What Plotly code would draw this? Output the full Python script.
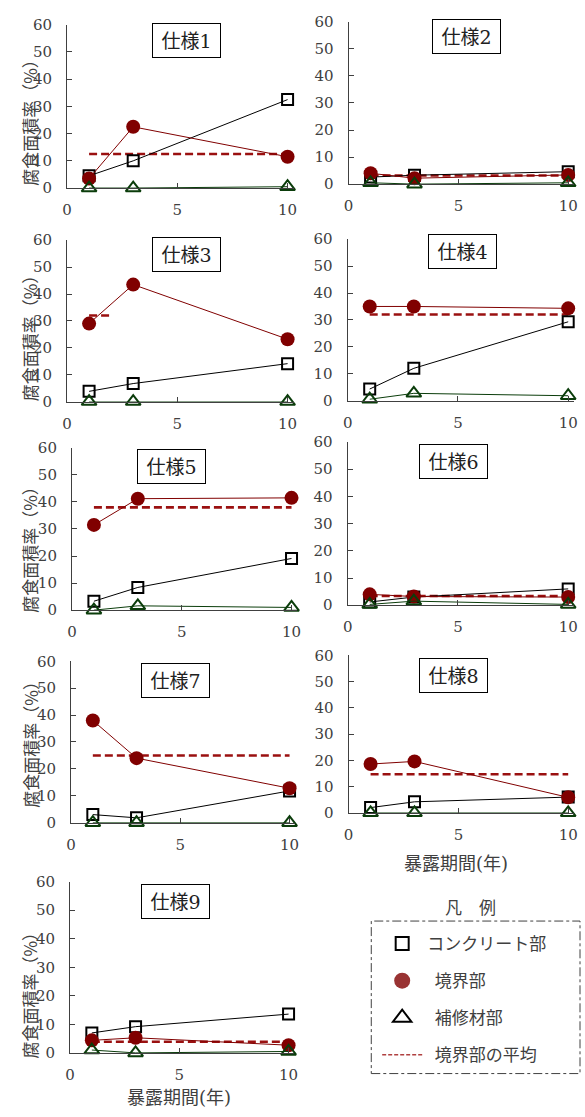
import plotly.graph_objects as go

W, H = 585, 1117

# ---- data -------------------------------------------------------------
years = [1, 3, 10]
spec_names = ["仕様1", "仕様2", "仕様3", "仕様4", "仕様5",
              "仕様6", "仕様7", "仕様8", "仕様9"]

concrete = [
    [4.5, 10.0, 32.5],
    [2.6, 3.3, 4.6],
    [3.8, 6.7, 14.1],
    [4.3, 12.0, 29.3],
    [3.3, 8.4, 19.1],
    [1.2, 3.0, 6.0],
    [3.0, 1.8, 11.8],
    [2.0, 4.2, 6.0],
    [7.0, 9.2, 13.6],
]
boundary = [
    [3.5, 22.5, 11.5],
    [4.0, 2.2, 3.4],
    [29.0, 43.5, 23.2],
    [35.0, 35.0, 34.3],
    [31.5, 41.2, 41.5],
    [4.0, 3.2, 3.0],
    [38.0, 24.0, 12.8],
    [18.6, 19.6, 5.9],
    [4.4, 5.3, 2.7],
]
repair = [
    [0.0, 0.0, 0.5],
    [0.5, 0.0, 0.5],
    [0.0, 0.0, 0.0],
    [0.5, 2.7, 1.8],
    [0.0, 1.6, 1.0],
    [0.3, 1.5, 0.3],
    [0.0, 0.0, 0.0],
    [0.0, 0.0, 0.0],
    [1.0, 0.0, 0.5],
]
boundary_avg = [12.5, 3.2, 32.0, 32.0, 38.0, 3.4, 25.0, 14.7, 3.9]
avg_span = [[1, 10], [1, 10], [1, 2], [1, 10], [1, 10],
            [1, 10], [1, 10], [1, 10], [1, 10]]

x_ticks = [0, 5, 10]
y_ticks = [0, 10, 20, 30, 40, 50, 60]

legend_names = ["コンクリート部", "  境界部", "  補修材部", "  境界部の平均"]
y_title = "腐食面積率（%）"
x_title = "暴露期間(年)"

# ---- layout geometry (pixels: x at 0, x at 10, y at 60, y at 0) --------
frames = [
    (63, 287, 16, 182),
    (349, 572, 13, 178),
    (63, 287, 235, 399),
    (348, 572, 234, 398),
    (68, 291, 446, 611),
    (348, 572, 440, 606),
    (67, 289, 663, 827),
    (349, 572, 657, 817),
    (66, 288, 887, 1061),
]
title_boxes = [(184, 32), (469, 28), (184, 250), (465, 246), (169, 465),
               (455, 460), (173, 683), (456, 677), (173, 907)]
XMAX = 10.27

C_TEXT = "#404040"
C_AXIS = "#404040"
C_CONC = "#000000"
C_BOUND = "#800000"
C_AVG = "#9a1010"
C_REP = "#0b3d0b"
NUM_FONT = "DejaVu Serif, Noto Sans CJK JP"
JP_FONT = "Noto Sans CJK JP"

fig = go.Figure()
annotations = []


def px_x(v):
    return v / W


def px_y(v):
    return 1 - v / H


for i in range(9):
    n = "" if i == 0 else str(i + 1)
    xa, ya = "x" + n, "y" + n
    x0, x10, yt, yb = frames[i]
    xend = min(x0 + (x10 - x0) * XMAX / 10, W)
    xmax = 10 * (xend - x0) / (x10 - x0)
    fig.update_layout({
        "xaxis" + n: dict(
            domain=[px_x(x0), px_x(xend)], anchor=ya, range=[0, xmax],
            tickvals=x_ticks, ticks="inside", ticklen=5, tickcolor=C_AXIS,
            showline=True, linecolor=C_AXIS, linewidth=1, showgrid=False,
            zeroline=False, ticklabelstandoff=8, ticklabeloverflow="allow",
            tickfont=dict(family=NUM_FONT, size=15, color=C_TEXT)),
        "yaxis" + n: dict(
            domain=[px_y(yb), px_y(yt)], anchor=xa, range=[0, 60],
            tickvals=y_ticks, ticks="inside", ticklen=5, tickcolor=C_AXIS,
            showline=True, linecolor=C_AXIS, linewidth=1, showgrid=False,
            zeroline=False, ticklabelstandoff=11, ticklabeloverflow="allow",
            tickfont=dict(family=NUM_FONT, size=15, color=C_TEXT)),
    })

    # average of the boundary zone (dashed)
    fig.add_trace(go.Scatter(
        x=avg_span[i], y=[boundary_avg[i]] * 2, mode="lines",
        line=dict(color=C_AVG, width=2.6, dash="8px,4px"),
        xaxis=xa, yaxis=ya, showlegend=False, cliponaxis=False,
        hoverinfo="skip"))
    # concrete part
    fig.add_trace(go.Scatter(
        x=years, y=concrete[i], mode="lines+markers",
        line=dict(color=C_CONC, width=1),
        marker=dict(symbol="square-open", size=11, color=C_CONC,
                    line=dict(width=2, color=C_CONC)),
        xaxis=xa, yaxis=ya, showlegend=False, cliponaxis=False))
    # boundary part
    fig.add_trace(go.Scatter(
        x=years, y=boundary[i], mode="lines+markers",
        line=dict(color=C_BOUND, width=1),
        marker=dict(symbol="circle", size=14, color=C_BOUND),
        xaxis=xa, yaxis=ya, showlegend=False, cliponaxis=False))
    # repair material part
    fig.add_trace(go.Scatter(
        x=years, y=repair[i], mode="lines+markers",
        line=dict(color=C_REP, width=1),
        marker=dict(symbol="triangle-up-open", size=13, color=C_REP,
                    line=dict(width=2, color=C_REP)),
        xaxis=xa, yaxis=ya, showlegend=False, cliponaxis=False))

    cx, cy = title_boxes[i]
    annotations.append(dict(
        text=spec_names[i], xref="paper", yref="paper",
        x=px_x(cx), y=px_y(cy), xanchor="center", yanchor="middle",
        showarrow=False, width=67, height=33, borderpad=0,
        bordercolor="#000000", borderwidth=1, bgcolor="white",
        font=dict(family=NUM_FONT, size=19, color="#202020")))

# vertical axis titles on the left column
for cy in [111, 330, 545, 743, 998]:
    annotations.append(dict(
        text=y_title, xref="paper", yref="paper", x=px_x(25), y=px_y(cy),
        xanchor="center", yanchor="middle", textangle=-90, showarrow=False,
        font=dict(family=JP_FONT, size=17, color=C_TEXT)))

# horizontal axis titles
for cx, cy in [(458, 868), (177, 1106)]:
    annotations.append(dict(
        text=x_title, xref="paper", yref="paper", x=px_x(cx), y=px_y(cy),
        xanchor="center", yanchor="middle", showarrow=False,
        font=dict(family=NUM_FONT, size=18, color=C_TEXT)))

# legend heading
annotations.append(dict(
    text="凡　例", xref="paper", yref="paper", x=px_x(473), y=px_y(912),
    xanchor="center", yanchor="middle", showarrow=False,
    font=dict(family=JP_FONT, size=17, color=C_TEXT)))

# legend entries
fig.add_trace(go.Scatter(
    x=[None], y=[None], mode="markers", name=legend_names[0],
    legendgroup="a",
    marker=dict(symbol="square-open", size=13, color="#000000",
                line=dict(width=2, color="#000000"))))
fig.add_trace(go.Scatter(
    x=[None], y=[None], mode="markers", name=legend_names[1],
    legendgroup="b", marker=dict(symbol="circle", size=16, color="#993333")))
fig.add_trace(go.Scatter(
    x=[None], y=[None], mode="markers", name=legend_names[2],
    legendgroup="c",
    marker=dict(symbol="triangle-up-open", size=16, color="#000000",
                line=dict(width=2, color="#000000"))))
fig.add_trace(go.Scatter(
    x=[None], y=[None], mode="lines", name=legend_names[3],
    legendgroup="d", line=dict(color="#b04040", width=1.5, dash="4px,2px")))

fig.update_layout(
    width=W, height=H, margin=dict(l=0, r=0, t=0, b=0),
    paper_bgcolor="white", plot_bgcolor="white",
    annotations=annotations,
    showlegend=True,
    legend=dict(
        x=px_x(378), y=px_y(932), xanchor="left", yanchor="top",
        itemwidth=40, tracegroupgap=12, bgcolor="rgba(0,0,0,0)",
        font=dict(family=JP_FONT, size=17, color=C_TEXT)),
    shapes=[
        dict(type="rect", xref="paper", yref="paper",
             x0=px_x(372), x1=px_x(584), y0=px_y(1082), y1=px_y(927),
             line=dict(color="#404040", width=1, dash="dashdot")),
    ],
)

fig.write_html("out.html")
